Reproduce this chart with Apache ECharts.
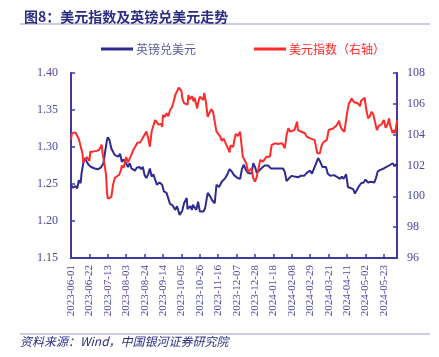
<!DOCTYPE html>
<html>
<head>
<meta charset="utf-8">
<script src="https://cdn.jsdelivr.net/npm/echarts@6/dist/echarts.min.js"></script>
<style>
html,body{margin:0;padding:0;background:#fff;}
#chart{width:439px;height:357px;}
</style>
</head>
<body>
<div id="chart"></div>
<script>
// Day offsets are counted from 2023-06-01
var startDate = '2023-06-01';
var xTickInterval = 21;
var xMaxDay = 372;

var gbpName = '英镑兑美元';
var dxyName = '美元指数（右轴）';

var gbpDays = [0,2,5,7,9,11,12,14,16,18,20,23,27,31,34,37,39,41,42,44,46,48,50,52,54,56,58,60,62,65,67,69,71,73,75,78,80,82,84,86,88,90,92,94,96,98,101,104,106,109,111,113,116,119,121,124,127,129,132,133,136,138,139,143,145,147,151,153,155,156,159,161,164,166,169,172,176,178,181,184,186,188,190,193,195,197,200,202,204,206,208,210,212,214,218,221,225,228,231,235,238,242,244,246,249,252,255,259,262,266,269,273,275,277,279,282,284,287,291,293,296,300,303,307,309,311,314,316,318,322,324,326,328,331,334,336,339,342,346,348,350,353,357,360,363,365,367,369,372];
var gbpValues = [1.249,1.245,1.247,1.244,1.255,1.251,1.264,1.278,1.285,1.280,1.276,1.273,1.271,1.270,1.272,1.278,1.294,1.309,1.313,1.309,1.298,1.297,1.289,1.290,1.287,1.291,1.280,1.283,1.280,1.273,1.278,1.271,1.271,1.268,1.272,1.273,1.270,1.273,1.262,1.258,1.263,1.271,1.260,1.263,1.262,1.249,1.252,1.249,1.240,1.238,1.236,1.223,1.221,1.215,1.220,1.208,1.214,1.224,1.231,1.216,1.220,1.215,1.222,1.215,1.226,1.213,1.213,1.217,1.219,1.238,1.233,1.228,1.224,1.249,1.246,1.253,1.258,1.262,1.270,1.266,1.262,1.260,1.258,1.257,1.270,1.276,1.268,1.265,1.264,1.264,1.278,1.273,1.265,1.267,1.272,1.275,1.275,1.271,1.271,1.271,1.271,1.271,1.266,1.254,1.258,1.261,1.260,1.259,1.261,1.261,1.265,1.268,1.264,1.270,1.276,1.285,1.281,1.273,1.273,1.264,1.261,1.262,1.260,1.257,1.260,1.257,1.263,1.246,1.244,1.243,1.237,1.235,1.246,1.251,1.252,1.256,1.252,1.253,1.252,1.258,1.267,1.269,1.271,1.273,1.275,1.273,1.278,1.275,1.277];

var dxyDays = [0,1,5,7,9,10,13,14,16,18,21,22,25,29,32,35,36,38,40,41,42,44,46,48,50,52,55,57,58,60,63,65,67,69,71,74,76,79,81,83,86,88,90,92,94,96,98,100,103,104,105,107,109,111,113,115,117,119,121,123,126,127,129,131,133,134,136,138,140,141,144,145,147,149,151,152,154,156,157,160,162,164,166,168,170,172,174,176,178,180,181,182,185,186,188,190,193,195,196,198,200,202,204,206,208,210,212,214,216,218,219,221,223,225,227,229,231,233,236,241,244,246,248,250,252,255,258,259,263,267,269,273,275,278,281,284,286,288,290,292,294,296,299,301,303,306,307,309,312,314,315,317,319,320,323,325,327,330,331,333,335,337,339,341,343,345,347,349,351,354,357,359,361,363,364,367,369,370,372];
var dxyValues = [103.7,104.1,104.15,104.2,103.7,103.6,102.8,102.2,102.25,102.55,102.3,102.9,102.9,102.95,103.0,103.35,102.8,102.15,101.4,100.3,99.85,99.85,99.95,100.75,101.2,101.1,101.4,101.7,102.0,101.85,102.55,102.2,102.1,102.7,103.0,103.3,103.5,103.5,103.4,103.9,104.2,103.8,103.22,104.2,104.3,104.95,104.8,104.65,104.7,104.5,105.28,105.15,105.39,105.2,105.6,105.75,106.1,106.57,106.5,107.05,106.85,106.35,106.05,106.15,105.95,106.57,106.3,106.5,106.15,106.4,105.7,106.05,106.46,106.57,106.25,106.7,106.1,105.15,105.28,105.65,105.5,104.85,104.2,104.3,103.9,103.6,103.75,103.5,103.4,103.0,102.85,103.3,103.2,103.55,104.05,103.9,104.19,104.1,102.57,102.5,102.14,101.6,101.7,101.8,101.17,100.95,101.28,101.4,102.36,102.47,102.25,102.36,102.57,102.45,102.57,103.33,103.33,103.44,103.4,103.45,103.12,103.98,104.41,104.2,104.3,104.3,104.84,104.3,104.19,104.09,103.87,103.76,103.76,103.66,102.8,102.8,103.3,103.5,103.44,103.66,104.3,104.35,104.4,104.45,104.6,104.9,104.6,104.35,104.19,104.15,105.4,106.0,106.2,106.35,106.1,106.15,106.05,105.85,106.2,106.3,106.4,105.6,105.06,105.2,105.49,105.3,105.2,104.3,104.55,104.65,104.95,104.45,104.65,105.06,104.65,104.1,104.3,104.1,104.95];

function pairs(days, vals){ return days.map(function(d,i){ return [d, vals[i]]; }); }
var base = Date.UTC(2023,5,1);
function dayLabel(d){ return new Date(base + d*86400000).toISOString().slice(0,10); }

var axisColor = '#3f3a9c';
var labelColor = '#4b47a3';
var serif = 'Liberation Serif';
var cjk = 'Noto Sans CJK SC';

var chart = echarts.init(document.getElementById('chart'), null, {renderer:'canvas'});
chart.setOption({
  animation:false,
  backgroundColor:'#fff',
  title:{
    text:'图8：美元指数及英镑兑美元走势',
    left:19, top:5,
    textStyle:{fontFamily:cjk, fontSize:14, fontWeight:'bold', color:'#2b2e83'}
  },
  graphic:[
    {type:'line', shape:{x1:20,y1:24,x2:430,y2:24}, style:{stroke:'#9b98d2', lineWidth:1.2}},
    {type:'line', shape:{x1:20,y1:334,x2:430,y2:334}, style:{stroke:'#9b98d2', lineWidth:1.2}},
    {type:'text', left:20, top:335, style:{text:'资料来源：Wind，中国银河证券研究院', font:'italic 12px "Noto Sans CJK SC"', fill:'#2b2e83'}}
  ],
  legend:{
    top:38, left:96,
    itemWidth:32, itemHeight:3, itemGap:58,
    icon:'rect',
    textStyle:{fontFamily:cjk, fontSize:12, padding:[0,0,0,-2]},
    data:[
      {name:gbpName, textStyle:{color:'#5c5a9e'}},
      {name:dxyName, textStyle:{color:'#ff2a2a'}}
    ]
  },
  grid:{left:71, right:42, top:73, bottom:99},
  xAxis:{
    type:'value', min:0, max:xMaxDay, interval:xTickInterval,
    axisLine:{show:true, lineStyle:{color:axisColor, width:2}},
    axisTick:{show:true, inside:true, length:4, lineStyle:{color:axisColor, width:1.5}},
    splitLine:{show:false},
    axisLabel:{rotate:90, margin:7, color:labelColor, fontFamily:serif, fontSize:11, showMaxLabel:false,
      formatter:function(v){ return dayLabel(v); }}
  },
  yAxis:[
    {type:'value', min:1.15, max:1.40, interval:0.05, position:'left',
     axisLine:{show:true, lineStyle:{color:axisColor, width:2}},
     axisTick:{show:true, inside:true, length:4, lineStyle:{color:axisColor, width:1.5}},
     splitLine:{show:false},
     axisLabel:{margin:13, color:labelColor, fontFamily:serif, fontSize:12, formatter:function(v){return v.toFixed(2);}}},
    {type:'value', min:96, max:108, interval:2, position:'right',
     axisLine:{show:true, lineStyle:{color:axisColor, width:2}},
     axisTick:{show:true, inside:true, length:4, lineStyle:{color:axisColor, width:1.5}},
     splitLine:{show:false},
     axisLabel:{margin:10, color:labelColor, fontFamily:serif, fontSize:12}}
  ],
  series:[
    {name:gbpName, type:'line', yAxisIndex:0, data:pairs(gbpDays,gbpValues), showSymbol:false,
     lineStyle:{color:'#2f2a8f', width:2}, itemStyle:{color:'#2f2a8f'}},
    {name:dxyName, type:'line', yAxisIndex:1, data:pairs(dxyDays,dxyValues), showSymbol:false,
     lineStyle:{color:'#ff2a2a', width:2}, itemStyle:{color:'#ff2a2a'}}
  ]
});
</script>
</body>
</html>
